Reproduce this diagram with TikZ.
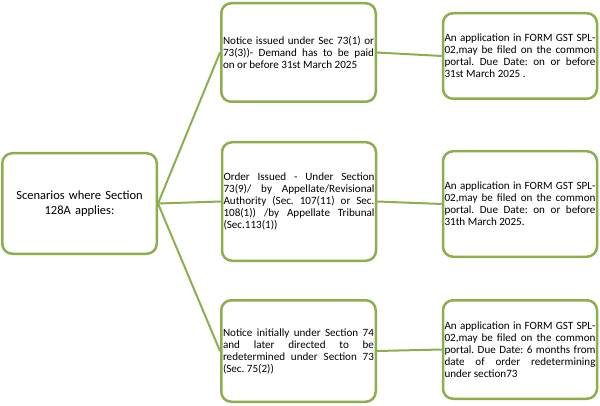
\documentclass[tikz,border=0pt]{standalone}
\usepackage{fontspec}
\setmainfont{Carlito}
\definecolor{olivebox}{HTML}{8CAF4E}
\frenchspacing
\hyphenpenalty=10000
\begin{document}
\begin{tikzpicture}[x=1pt,y=1pt,
    box/.style={draw=olivebox, line width=2.5pt, rounded corners=10pt,
      inner sep=1.5pt, text width=151pt, align=justify,
      font={\fontsize{11.1pt}{12pt}\selectfont}},
    wire/.style={draw=olivebox, line width=2pt}]
  \useasboundingbox (0,0) rectangle (600,405);
  \node[box, minimum width=154.5pt, minimum height=100.5pt, align=center,
        font={\fontsize{12.5pt}{15pt}\selectfont}] (scen) at (79.5,201.5)
    {Scenarios where Section\\128A applies:};
  \node[box, minimum width=154.5pt, minimum height=98.5pt] (notice) at (298.5,352.5)
    {Notice issued under Sec 73(1) or\linebreak 73(3))- Demand has to be paid\linebreak on or before 31st March 2025};
  \node[box, minimum width=153.5pt, minimum height=118.5pt] (order) at (299,203.5)
    {Order Issued - Under Section\linebreak 73(9)/ by Appellate/Revisional\linebreak Authority (Sec. 107(11) or Sec.\linebreak 108(1)) /by Appellate Tribunal\linebreak (Sec.113(1))};
  \node[box, minimum width=154.5pt, minimum height=101.5pt] (initial) at (298.5,54)
    {Notice initially under Section 74\linebreak and later directed to be\linebreak redetermined under Section 73\linebreak (Sec. 75(2))};
  \node[box, minimum width=153.5pt, minimum height=85.5pt] (appA) at (520,349)
    {An application in FORM GST SPL-\linebreak 02,may be filed on the common\linebreak portal. Due Date: on or before\linebreak 31st March 2025 .};
  \node[box, minimum width=153.5pt, minimum height=105.5pt] (appB) at (520,201)
    {An application in FORM GST SPL-\linebreak 02,may be filed on the common\linebreak portal. Due Date: on or before\linebreak 31th March 2025.};
  \node[box, minimum width=153.5pt, minimum height=98.5pt] (appC) at (520,55.5)
    {An application in FORM GST SPL-\linebreak 02,may be filed on the common\linebreak portal. Due Date: 6 months from\linebreak date of order redetermining\linebreak under section73};
  \begin{scope}[wire]
    \draw (scen.east) -- (notice.west);
    \draw (scen.east) -- (order.west);
    \draw (scen.east) -- (initial.west);
    \draw (notice.east) -- (appA.west);
    \draw (order.east) -- (appB.west);
    \draw (initial.east) -- (appC.west);
  \end{scope}
\end{tikzpicture}
\end{document}
